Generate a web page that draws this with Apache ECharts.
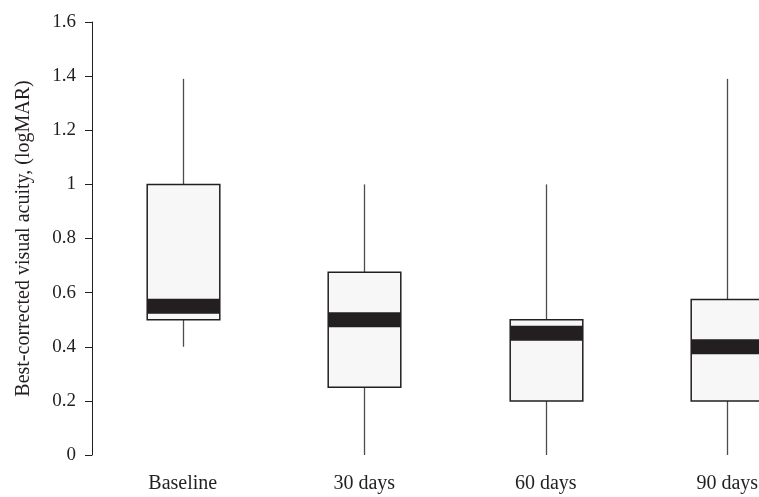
<!DOCTYPE html>
<html><head><meta charset="utf-8">
<script src="https://cdn.jsdelivr.net/npm/echarts@6/dist/echarts.min.js"></script>
<style>html,body{margin:0;padding:0;background:#fff}#c{width:759px;height:497px}</style>
</head><body><div id="c"></div>
<script>
const categories = ['Baseline', '30 days', '60 days', '90 days'];
const mins    = [0.40, 0.00, 0.00, 0.00];
const q1s     = [0.50, 0.25, 0.20, 0.20];
const medians = [0.55, 0.50, 0.45, 0.40];
const q3s     = [1.00, 0.675, 0.50, 0.575];
const maxs    = [1.39, 1.00, 1.00, 1.39];
const yTicks  = [0, 0.2, 0.4, 0.6, 0.8, 1, 1.2, 1.4, 1.6];

const data = categories.map((c, i) => [i, mins[i], q1s[i], medians[i], q3s[i], maxs[i]]);
const font = '"Liberation Serif", "DejaVu Serif", serif';

const chart = echarts.init(document.getElementById('c'));
chart.setOption({
  animation: false,
  backgroundColor: '#fff',
  grid: { left: 92, top: 22, height: 433, width: 726, outerBoundsMode: 'none', containLabel: false },
  xAxis: {
    type: 'category', data: categories, boundaryGap: true,
    axisLine: { show: false }, axisTick: { show: false },
    axisLabel: { color: '#231f20', fontFamily: font, fontSize: 20, margin: 19 }
  },
  yAxis: {
    type: 'value', min: 0, max: 1.6, interval: 0.2,
    name: 'Best-corrected visual acuity, (logMAR)', nameLocation: 'middle', nameGap: 58,
    nameTextStyle: { color: '#231f20', fontFamily: font, fontSize: 20 },
    splitLine: { show: false },
    axisLine: { show: true, lineStyle: { color: '#231f20', width: 1 } },
    axisTick: { show: true, length: 7, lineStyle: { color: '#231f20' } },
    axisLabel: { color: '#231f20', fontFamily: font, fontSize: 19, margin: 16,
      formatter: v => { const t = yTicks.find(x => Math.abs(x - v) < 1e-9); return t === undefined ? '' : String(t); } }
  },
  series: [{
    type: 'custom',
    clip: false,
    data: data,
    renderItem: function (params, api) {
      const x = api.value(0);
      const pMin = api.coord([x, api.value(1)]);
      const pQ1 = api.coord([x, api.value(2)]);
      const pMed = api.coord([x, api.value(3)]);
      const pQ3 = api.coord([x, api.value(4)]);
      const pMax = api.coord([x, api.value(5)]);
      const bw = api.size([1, 0])[0] * 0.4;
      const cx = Math.round(pQ1[0]) + 0.5;
      const left = cx - bw / 2;
      const medH = 15;
      return {
        type: 'group',
        children: [
          { type: 'line', shape: { x1: cx, y1: pMin[1], x2: cx, y2: pQ1[1] }, style: { stroke: '#4d4d4d', lineWidth: 1.3 } },
          { type: 'line', shape: { x1: cx, y1: pQ3[1], x2: cx, y2: pMax[1] }, style: { stroke: '#4d4d4d', lineWidth: 1.3 } },
          { type: 'rect', shape: { x: left, y: pQ3[1], width: bw, height: pQ1[1] - pQ3[1] }, style: { fill: '#f7f7f7', stroke: '#231f20', lineWidth: 1.5 } },
          { type: 'rect', shape: { x: left, y: pMed[1] - medH / 2, width: bw, height: medH }, style: { fill: '#231f20', stroke: null } }
        ]
      };
    }
  }]
});
</script></body></html>
